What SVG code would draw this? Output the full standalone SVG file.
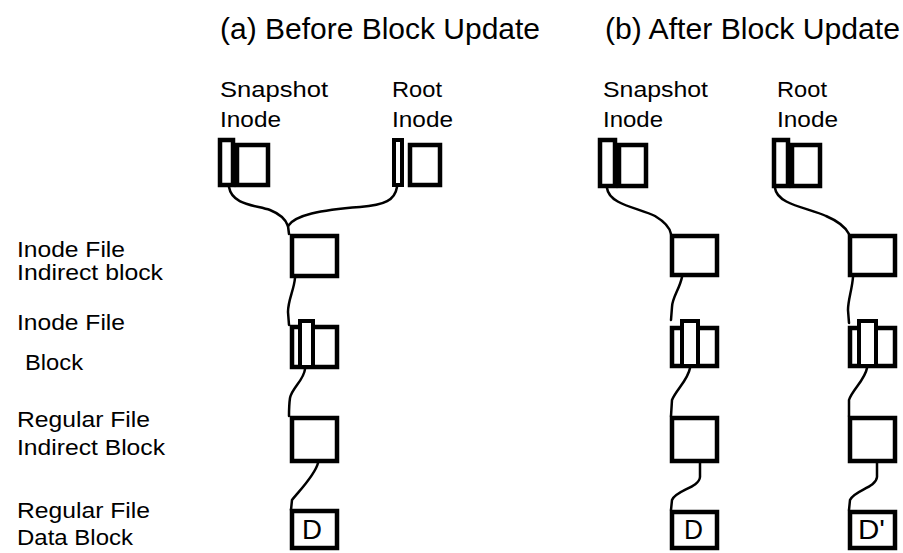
<svg xmlns="http://www.w3.org/2000/svg" width="903" height="553" viewBox="0 0 903 553">
<style>
  .t { font-family: "Liberation Sans", Arial, sans-serif; font-size: 22px; fill: #000; }
  .title { font-family: "Liberation Sans", Arial, sans-serif; font-size: 29px; fill: #000; }
  .d { font-family: "Liberation Sans", Arial, sans-serif; font-size: 28px; fill: #000; }
  .box { fill: #fff; stroke: #000; stroke-width: 4.5; }
  .tab { fill: #fff; stroke: #000; stroke-width: 4; }
  .link { fill: none; stroke: #000; stroke-width: 2.5; stroke-linecap: round; }
</style>
<rect x="0" y="0" width="903" height="553" fill="#fff"/>

<g id="titles">
  <text class="title" x="220" y="39" textLength="320" lengthAdjust="spacingAndGlyphs">(a) Before Block Update</text>
  <text class="title" x="605" y="39" textLength="295" lengthAdjust="spacingAndGlyphs">(b) After Block Update</text>
</g>

<g id="row-labels">
  <text class="t" x="17" y="257" textLength="108" lengthAdjust="spacingAndGlyphs">Inode File</text>
  <text class="t" x="17" y="280" textLength="146" lengthAdjust="spacingAndGlyphs">Indirect block</text>
  <text class="t" x="17" y="330" textLength="108" lengthAdjust="spacingAndGlyphs">Inode File</text>
  <text class="t" x="25" y="370" textLength="58" lengthAdjust="spacingAndGlyphs">Block</text>
  <text class="t" x="17" y="427" textLength="133" lengthAdjust="spacingAndGlyphs">Regular File</text>
  <text class="t" x="17" y="455" textLength="148" lengthAdjust="spacingAndGlyphs">Indirect Block</text>
  <text class="t" x="17" y="518" textLength="133" lengthAdjust="spacingAndGlyphs">Regular File</text>
  <text class="t" x="17" y="545" textLength="116" lengthAdjust="spacingAndGlyphs">Data Block</text>
</g>

<g id="connectors">
  <path class="link" d="M229,187 C232,205 255,205 270,210 C280,214 286,220 288,226"/>
  <path class="link" d="M397,187 C395,200 385,205 360,207 C320,210 295,215 288,226 L289,234"/>
  <path class="link" d="M295,278 C294,290 288,300 288,312 L289,325"/>
  <path class="link" d="M305,369 C304,380 292,388 290,398 C289,405 289,410 289,416"/>
  <path class="link" d="M318,463 C315,475 300,490 292,500 L291,510"/>

  <path class="link" d="M607,188 C609,205 640,208 655,216 C665,222 670,228 671,234"/>
  <path class="link" d="M682,277 C680,288 672,298 672,307 L671,320"/>
  <path class="link" d="M690,368 C688,380 676,390 672,400 L671,416"/>
  <path class="link" d="M700,463 L700,477 C699,488 676,490 672,500 L671,510"/>

  <path class="link" d="M775,188 C777,205 810,208 826,216 C840,222 846,228 849,234"/>
  <path class="link" d="M853,277 C852,290 848,300 848,310 L849,323"/>
  <path class="link" d="M867,368 C865,380 852,390 849,400 L849,416"/>
  <path class="link" d="M877,463 L877,477 C876,488 854,490 850,500 L849,510"/>
</g>

<g id="a-snapshot-inode">
  <text class="t" x="220" y="97" textLength="108" lengthAdjust="spacingAndGlyphs">Snapshot</text>
  <text class="t" x="220" y="127" textLength="61" lengthAdjust="spacingAndGlyphs">Inode</text>
  <rect class="box" x="237" y="145" width="31" height="40"/>
  <rect class="box" x="220" y="140" width="13" height="45"/>
</g>
<g id="a-root-inode">
  <text class="t" x="392" y="97" textLength="50" lengthAdjust="spacingAndGlyphs">Root</text>
  <text class="t" x="392" y="127" textLength="61" lengthAdjust="spacingAndGlyphs">Inode</text>
  <rect class="tab" x="394" y="140" width="8" height="45"/>
  <rect class="box" x="410" y="145" width="30" height="40"/>
</g>
<g id="a-inode-indirect">
  <rect class="box" x="292" y="236" width="45" height="40"/>
</g>
<g id="a-inode-block">
  <rect class="box" x="292" y="327" width="45" height="40"/>
  <rect class="tab" x="300" y="321" width="13" height="46"/>
</g>
<g id="a-regular-indirect">
  <rect class="box" x="292" y="418" width="45" height="43"/>
</g>
<g id="a-data">
  <rect class="box" x="292" y="511" width="45" height="37"/>
  <text class="d" x="302" y="539" textLength="20" lengthAdjust="spacingAndGlyphs">D</text>
</g>

<g id="b-snapshot-inode">
  <text class="t" x="603" y="97" textLength="105" lengthAdjust="spacingAndGlyphs">Snapshot</text>
  <text class="t" x="603" y="127" textLength="60" lengthAdjust="spacingAndGlyphs">Inode</text>
  <rect class="box" x="619" y="145" width="27" height="41"/>
  <rect class="box" x="600" y="140" width="15" height="46"/>
</g>
<g id="b-root-inode">
  <text class="t" x="777" y="97" textLength="50" lengthAdjust="spacingAndGlyphs">Root</text>
  <text class="t" x="777" y="127" textLength="61" lengthAdjust="spacingAndGlyphs">Inode</text>
  <rect class="box" x="792" y="145" width="28" height="41"/>
  <rect class="box" x="774" y="140" width="14" height="46"/>
</g>
<g id="b-snap-inode-indirect">
  <rect class="box" x="672" y="236" width="45" height="39"/>
</g>
<g id="b-snap-inode-block">
  <rect class="box" x="672" y="328" width="45" height="38"/>
  <rect class="tab" x="682" y="321" width="16" height="45"/>
</g>
<g id="b-snap-regular-indirect">
  <rect class="box" x="672" y="418" width="45" height="43"/>
</g>
<g id="b-snap-data">
  <rect class="box" x="672" y="512" width="45" height="36"/>
  <text class="d" x="684" y="539" textLength="19" lengthAdjust="spacingAndGlyphs">D</text>
</g>

<g id="b-root-inode-indirect">
  <rect class="box" x="850" y="236" width="45" height="39"/>
</g>
<g id="b-root-inode-block">
  <rect class="box" x="850" y="328" width="45" height="38"/>
  <rect class="tab" x="859" y="321" width="17" height="45"/>
</g>
<g id="b-root-regular-indirect">
  <rect class="box" x="850" y="418" width="45" height="43"/>
</g>
<g id="b-root-data">
  <rect class="box" x="850" y="512" width="45" height="36"/>
  <text class="d" x="858" y="539" textLength="27" lengthAdjust="spacingAndGlyphs">D'</text>
</g>
</svg>
